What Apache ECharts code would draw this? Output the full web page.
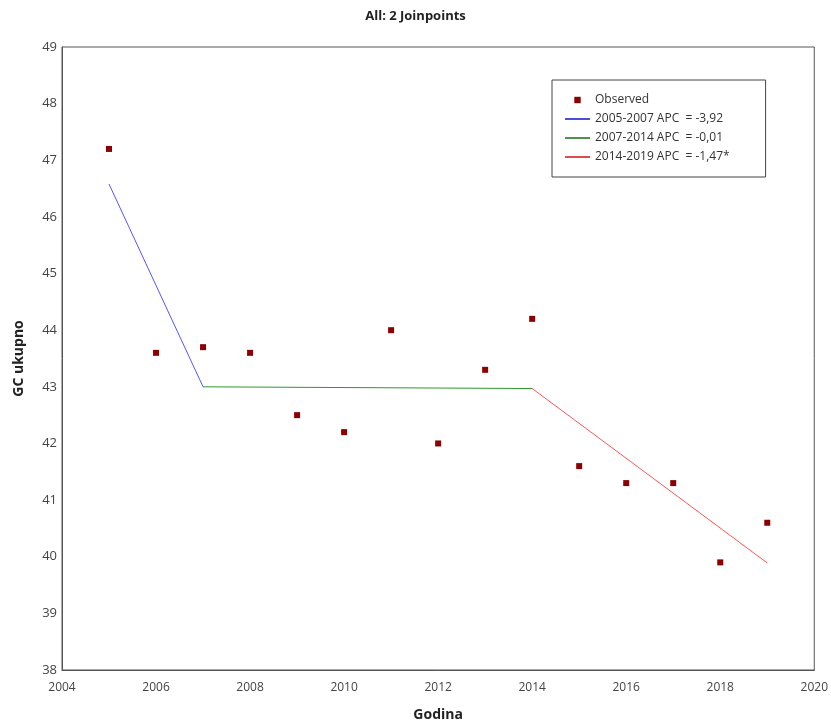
<!DOCTYPE html>
<html>
<head>
<meta charset="utf-8">
<script src="https://cdn.jsdelivr.net/npm/echarts@6/dist/echarts.min.js"></script>
<style>
	html, body { margin: 0; padding: 0; background: #fff; }
	#chart { width: 831px; height: 727px; }
</style>
</head>
<body>
<div id="chart"></div>
<script>
// opažene vrijednosti
var years = [2005, 2006, 2007, 2008, 2009, 2010, 2011, 2012, 2013, 2014, 2015, 2016, 2017, 2018, 2019];
var observed = [47.2, 43.6, 43.7, 43.6, 42.5, 42.2, 44.0, 42.0, 43.3, 44.2, 41.6, 41.3, 41.3, 39.9, 40.6];

// segmenti joinpoint modela
var seg1Years = [2005, 2007];
var seg1Values = [46.58, 43.0];
var seg2Years = [2007, 2014];
var seg2Values = [43.0, 42.97];
var seg3Years = [2014, 2019];
var seg3Values = [42.97, 39.89];

var seriesNames = ['Observed', '2005-2007 APC  = -3,92', '2007-2014 APC  = -0,01', '2014-2019 APC  = -1,47*'];

function pairs(xs, ys) {
	var out = [];
	for (var i = 0; i < xs.length; i++) {
		out.push([xs[i], ys[i]]);
	}
	return out;
}

// ikona linije u legendi
var lineIcon = 'path://M0,0h25v1.4h-25z';

var chart = echarts.init(document.getElementById('chart'));
chart.setOption({
	animation : false,
	textStyle : {
		fontFamily : 'Open Sans'
	},
	title : {
		text : 'All: 2 Joinpoints',
		left : 'center',
		top : 5,
		textStyle : {
			fontSize : 13,
			fontWeight : 'bold',
			color : '#222'
		}
	},
	grid : {
		left : 62,
		right : 16,
		top : 47,
		bottom : 57,
		show : true,
		borderColor : '#555',
		borderWidth : 1
	},
	legend : {
		orient : 'vertical',
		left : 552,
		top : 80,
		padding : [ 14, 36, 14, 13 ],
		itemWidth : 25,
		itemHeight : 8,
		itemGap : 7,
		backgroundColor : '#fff',
		borderColor : '#444',
		borderWidth : 1,
		textStyle : {
			fontSize : 12,
			color : '#333'
		},
		data : [ {
			name : seriesNames[0]
		}, {
			name : seriesNames[1],
			icon : lineIcon,
			itemStyle : { color : '#0000cc' }
		}, {
			name : seriesNames[2],
			icon : lineIcon,
			itemStyle : { color : '#006400' }
		}, {
			name : seriesNames[3],
			icon : lineIcon,
			itemStyle : { color : '#d00000' }
		} ]
	},
	xAxis : {
		type : 'value',
		min : 2004,
		max : 2020,
		interval : 2,
		name : 'Godina',
		nameLocation : 'middle',
		nameGap : 38,
		nameTextStyle : {
			fontSize : 14,
			fontWeight : 'bold',
			color : '#222'
		},
		axisLine : { lineStyle : { color : '#555' } },
		axisTick : { show : false },
		splitLine : { show : false },
		axisLabel : {
			color : '#444',
			fontSize : 12,
			margin : 12,
			formatter : function(v) { return String(v); }
		}
	},
	yAxis : {
		type : 'value',
		min : 38,
		max : 49,
		interval : 1,
		name : 'GC ukupno',
		nameLocation : 'middle',
		nameGap : 36,
		nameTextStyle : {
			fontSize : 14,
			fontWeight : 'bold',
			color : '#222'
		},
		axisLine : { show : true, lineStyle : { color : '#555' } },
		axisTick : { show : false },
		splitLine : { show : false },
		axisLabel : {
			color : '#444',
			fontSize : 13,
			margin : 5
		}
	},
	series : [ {
		name : seriesNames[0],
		type : 'line',
		data : pairs(years, observed),
		symbol : 'rect',
		symbolSize : 6,
		showAllSymbol : true,
		lineStyle : { width : 0, opacity : 0 },
		itemStyle : { color : '#8b0000' },
		z : 5
	}, {
		name : seriesNames[1],
		type : 'line',
		data : pairs(seg1Years, seg1Values),
		symbol : 'none',
		lineStyle : { color : '#5555ff', width : 1 },
		itemStyle : { color : '#0000cc' }
	}, {
		name : seriesNames[2],
		type : 'line',
		data : pairs(seg2Years, seg2Values),
		symbol : 'none',
		lineStyle : { color : '#2a9a2a', width : 1 },
		itemStyle : { color : '#006400' }
	}, {
		name : seriesNames[3],
		type : 'line',
		data : pairs(seg3Years, seg3Values),
		symbol : 'none',
		lineStyle : { color : '#ff5555', width : 1 },
		itemStyle : { color : '#d00000' }
	} ]
});
</script>
</body>
</html>
